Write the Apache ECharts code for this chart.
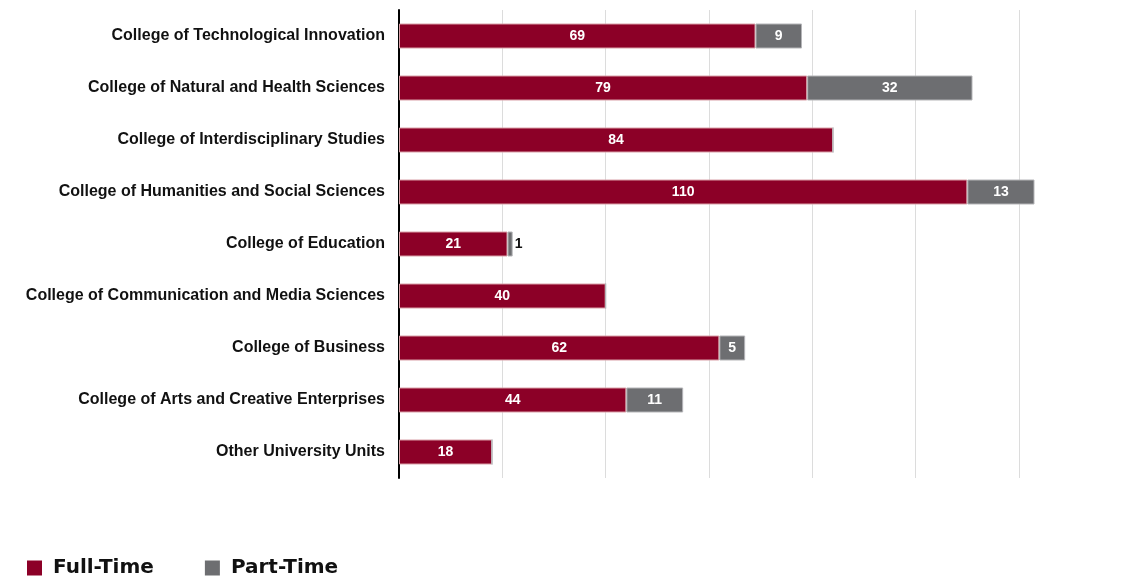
<!DOCTYPE html>
<html>
<head>
<meta charset="utf-8">
<script src="https://cdn.jsdelivr.net/npm/echarts@6/dist/echarts.min.js"></script>
<style>
  html, body { margin: 0; padding: 0; background: #fff; }
  #main { width: 1122px; height: 579px; }
</style>
</head>
<body>
<div id="main"></div>
<script>
var colleges = [
	'College of Technological Innovation',
	'College of Natural and Health Sciences',
	'College of Interdisciplinary Studies',
	'College of Humanities and Social Sciences',
	'College of Education',
	'College of Communication and Media Sciences',
	'College of Business',
	'College of Arts and Creative Enterprises',
	'Other University Units'
];
var fullTime = [69, 79, 84, 110, 21, 40, 62, 44, 18];
var partTime = [9, 32, 0, 13, 1, 0, 5, 11, 0];

var myChart = echarts.init(document.getElementById('main'));

// part-time values: hide zeros, put tiny ones outside the bar
var partData = partTime.map(function(v) {
	if (v === 0) return { value: 0, label: { show: false } };
	if (v < 3) return { value: v, label: { position: 'right', color: '#111', offset: [-3, 0] } };
	return v;
});

var option = {
	animation: false,
	grid: { left: 399, right: 103, top: 10, bottom: 101 },
	xAxis: {
		type: 'value',
		min: 0,
		max: 120,
		interval: 20,
		axisLabel: { show: false },
		axisLine: { show: false },
		axisTick: { show: false },
		splitLine: { lineStyle: { color: '#dcdcdc', width: 1 } }
	},
	yAxis: {
		type: 'category',
		data: colleges,
		inverse: true,
		axisTick: { show: false },
		axisLine: { lineStyle: { color: '#000', width: 2 } },
		axisLabel: {
			color: '#111',
			fontFamily: 'Liberation Sans',
			fontWeight: 'bold',
			fontSize: 16,
			margin: 14
		}
	},
	legend: {
		left: 22,
		top: 553,
		itemWidth: 15,
		itemHeight: 15,
		itemGap: 51,
		icon: 'rect',
		itemStyle: { borderWidth: 0 },
		textStyle: {
			fontFamily: 'DejaVu Sans',
			fontWeight: 'bold',
			fontSize: 20,
			color: '#111',
			padding: [0, 0, 0, 6]
		},
		data: ['Full-Time', 'Part-Time']
	},
	series: [{
		name: 'Full-Time',
		type: 'bar',
		stack: 'total',
		barWidth: 25,
		clip: false,
		data: fullTime,
		itemStyle: { color: '#8c0027', borderColor: '#d9a0a8', borderWidth: 1 },
		label: {
			show: true,
			position: 'inside',
			color: '#fff',
			fontFamily: 'Liberation Sans',
			fontWeight: 'bold',
			fontSize: 14
		}
	}, {
		name: 'Part-Time',
		type: 'bar',
		stack: 'total',
		barWidth: 25,
		clip: false,
		data: partData,
		itemStyle: { color: '#6d6e71', borderColor: '#b5b5b8', borderWidth: 1 },
		label: {
			show: true,
			position: 'inside',
			color: '#fff',
			fontFamily: 'Liberation Sans',
			fontWeight: 'bold',
			fontSize: 14
		}
	}]
};
myChart.setOption(option);
</script>
</body>
</html>
